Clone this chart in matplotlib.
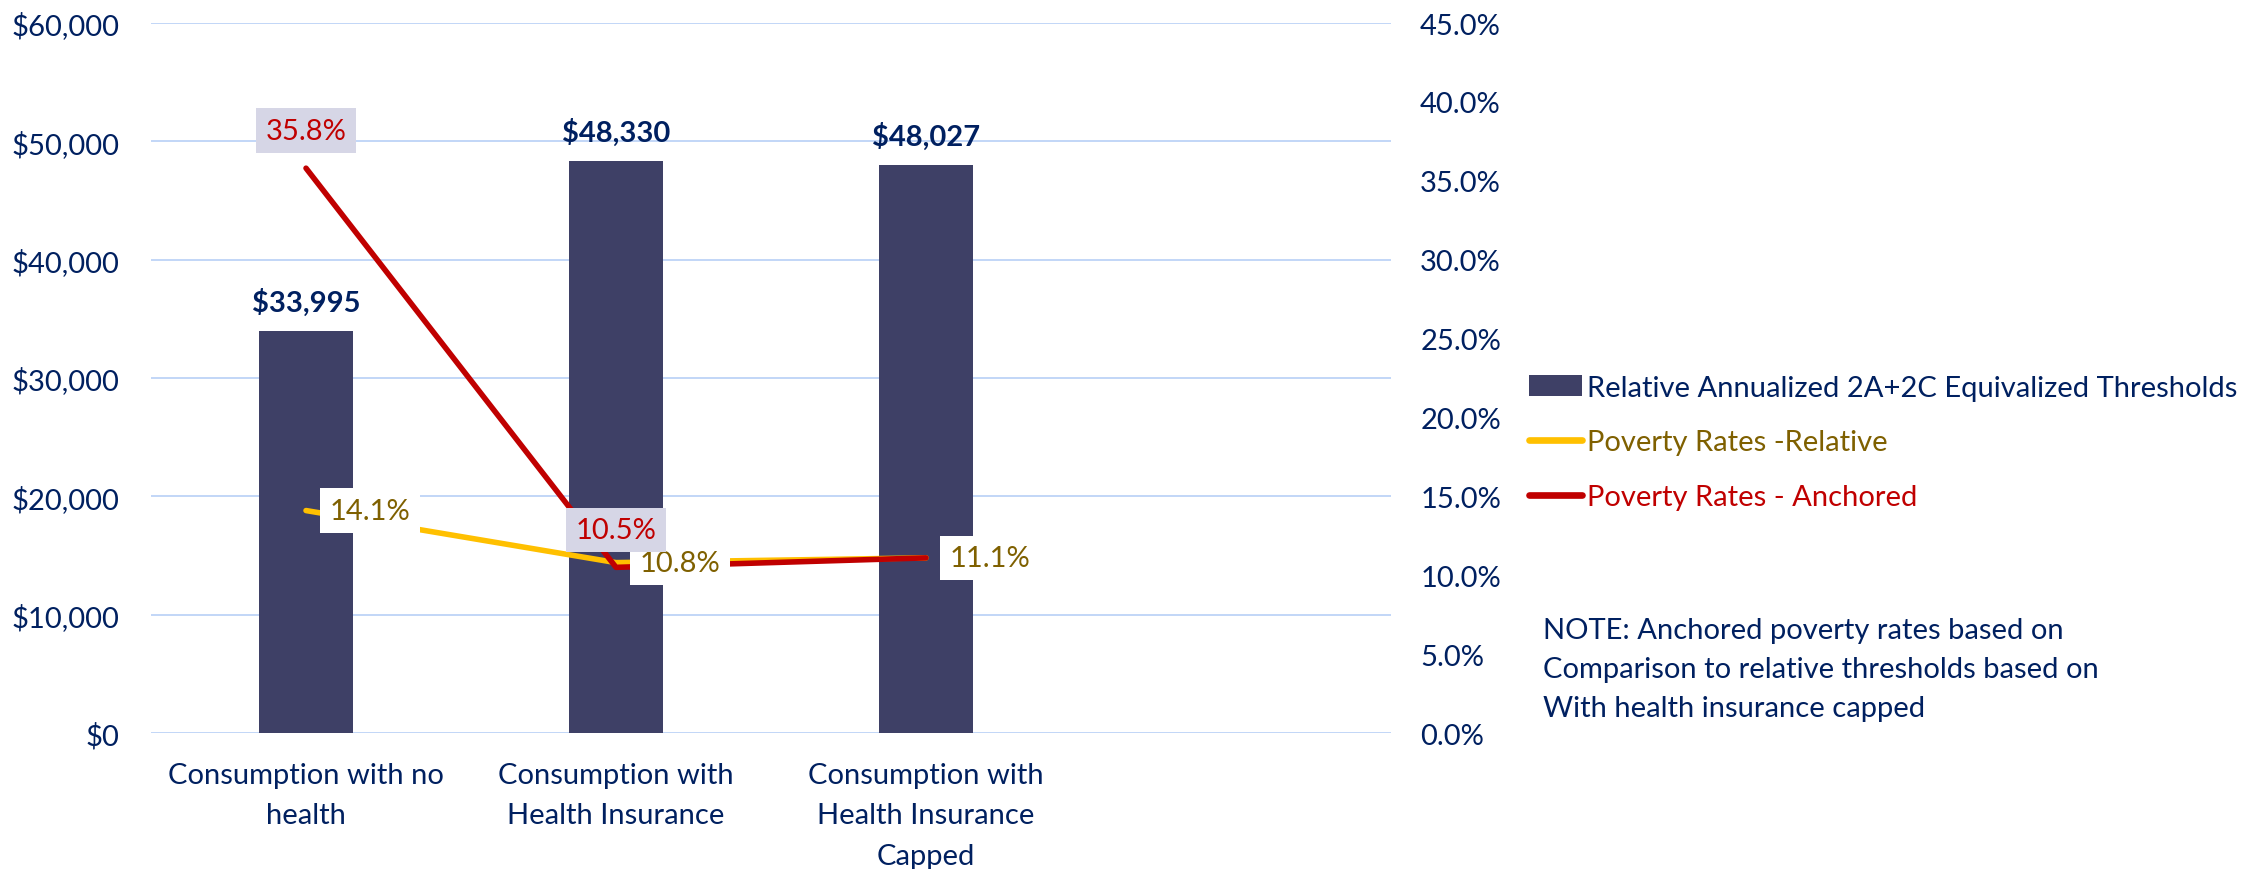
import matplotlib.pyplot as plt
import numpy as np
from matplotlib.ticker import FuncFormatter, MultipleLocator

# chart data
categories = ['Consumption with no\nhealth',
              'Consumption with\nHealth Insurance',
              'Consumption with\nHealth Insurance\nCapped',
              '']
thresholds = [33995, 48330, 48027]
rates_relative = [0.141, 0.108, 0.111]
rates_anchored = [0.358, 0.105, 0.111]
anchored_labelled = [True, True, False]

series_names = ['Relative Annualized 2A+2C Equivalized Thresholds',
                'Poverty Rates -Relative',
                'Poverty Rates - Anchored']
note = ('NOTE: Anchored poverty rates based on\n'
        'Comparison to relative thresholds based on\n'
        'With health insurance capped')

NAVY = '#002060'
BAR = '#3E4066'
GOLD_LINE = '#FFC000'
GOLD_TEXT = '#7F6000'
RED = '#C00000'
GRID = '#C2D6F7'
RED_BOX = '#D6D6E6'
FS = 21

plt.rcParams['font.family'] = ['Lato', 'DejaVu Sans']
plt.rcParams['font.size'] = FS

fig = plt.figure(figsize=(22.64, 8.7), dpi=100)
ax = fig.add_axes([0.0667, 0.1563, 0.5477, 0.8161])

x = np.arange(len(thresholds))
bars = ax.bar(x, thresholds, width=0.305, color=BAR, zorder=2,
              label=series_names[0])
ax.set_xlim(-0.5, len(categories) - 0.5)
ax.set_ylim(0, 60000)
ax.yaxis.set_major_locator(MultipleLocator(10000))
ax.yaxis.set_major_formatter(FuncFormatter(lambda v, p: f'${v:,.0f}'))
ax.yaxis.grid(True, color=GRID, lw=1.4, zorder=0)
ax.set_axisbelow(True)
ax.set_xticks(np.arange(len(categories)))
ax.set_xticklabels(categories)
for lbl in ax.get_xticklabels():
    lbl.set_linespacing(1.68)
ax.tick_params(axis='y', length=0, pad=23, colors=NAVY, labelsize=FS)
ax.tick_params(axis='x', length=0, pad=21, colors=NAVY, labelsize=FS)
for s in ax.spines.values():
    s.set_visible(False)

for xi, v in zip(x, thresholds):
    ax.annotate(f'${v:,.0f}', (xi, v), xytext=(0, 21), textcoords='offset points',
                ha='center', va='center', fontweight='bold', color=NAVY, fontsize=FS)

ax2 = ax.twinx()
ax2.set_ylim(0, 0.45)
ax2.yaxis.set_major_locator(MultipleLocator(0.05))
ax2.yaxis.set_major_formatter(FuncFormatter(lambda v, p: f'{v * 100:.1f}%'))
ax2.tick_params(axis='y', length=0, pad=21, colors=NAVY, labelsize=FS)
for s in ax2.spines.values():
    s.set_visible(False)

l_rel, = ax2.plot(x, rates_relative, color=GOLD_LINE, lw=4,
                  solid_capstyle='round', solid_joinstyle='round', zorder=3,
                  label=series_names[1])
l_anc, = ax2.plot(x, rates_anchored, color=RED, lw=4,
                  solid_capstyle='round', solid_joinstyle='round', zorder=4,
                  label=series_names[2])

# relative rate labels sit to the right of each point on white boxes
for xi, v in zip(x, rates_relative):
    ax2.annotate(f'{v * 100:.1f}%', (xi, v), xytext=(17, 0), textcoords='offset points',
                 ha='left', va='center', color=GOLD_TEXT, fontsize=FS, zorder=6,
                 bbox=dict(boxstyle='square,pad=0.32', fc='white', ec='none'))

# anchored rate labels sit above the points on shaded boxes
for xi, v, show in zip(x, rates_anchored, anchored_labelled):
    if not show:
        continue
    ax2.annotate(f'{v * 100:.1f}%', (xi, v), xytext=(0, 27), textcoords='offset points',
                 ha='center', va='center', color=RED, fontsize=FS, zorder=6,
                 bbox=dict(boxstyle='square,pad=0.32', fc=RED_BOX, ec='none'))

leg = fig.legend(handles=[bars, l_rel, l_anc], loc='upper left',
                 bbox_to_anchor=(0.6754, 0.568), frameon=False, fontsize=FS,
                 handlelength=1.8, handletextpad=0.2, labelspacing=0.98,
                 borderpad=0, borderaxespad=0)
for txt, c in zip(leg.get_texts(), [NAVY, GOLD_TEXT, RED]):
    txt.set_color(c)
for h in leg.get_lines():
    h.set_linewidth(4.8)

fig.text(0.6815, 0.2897, note, ha='left', va='top', color=NAVY, fontsize=FS,
         linespacing=1.62)

fig.savefig('out.png', dpi=100)
